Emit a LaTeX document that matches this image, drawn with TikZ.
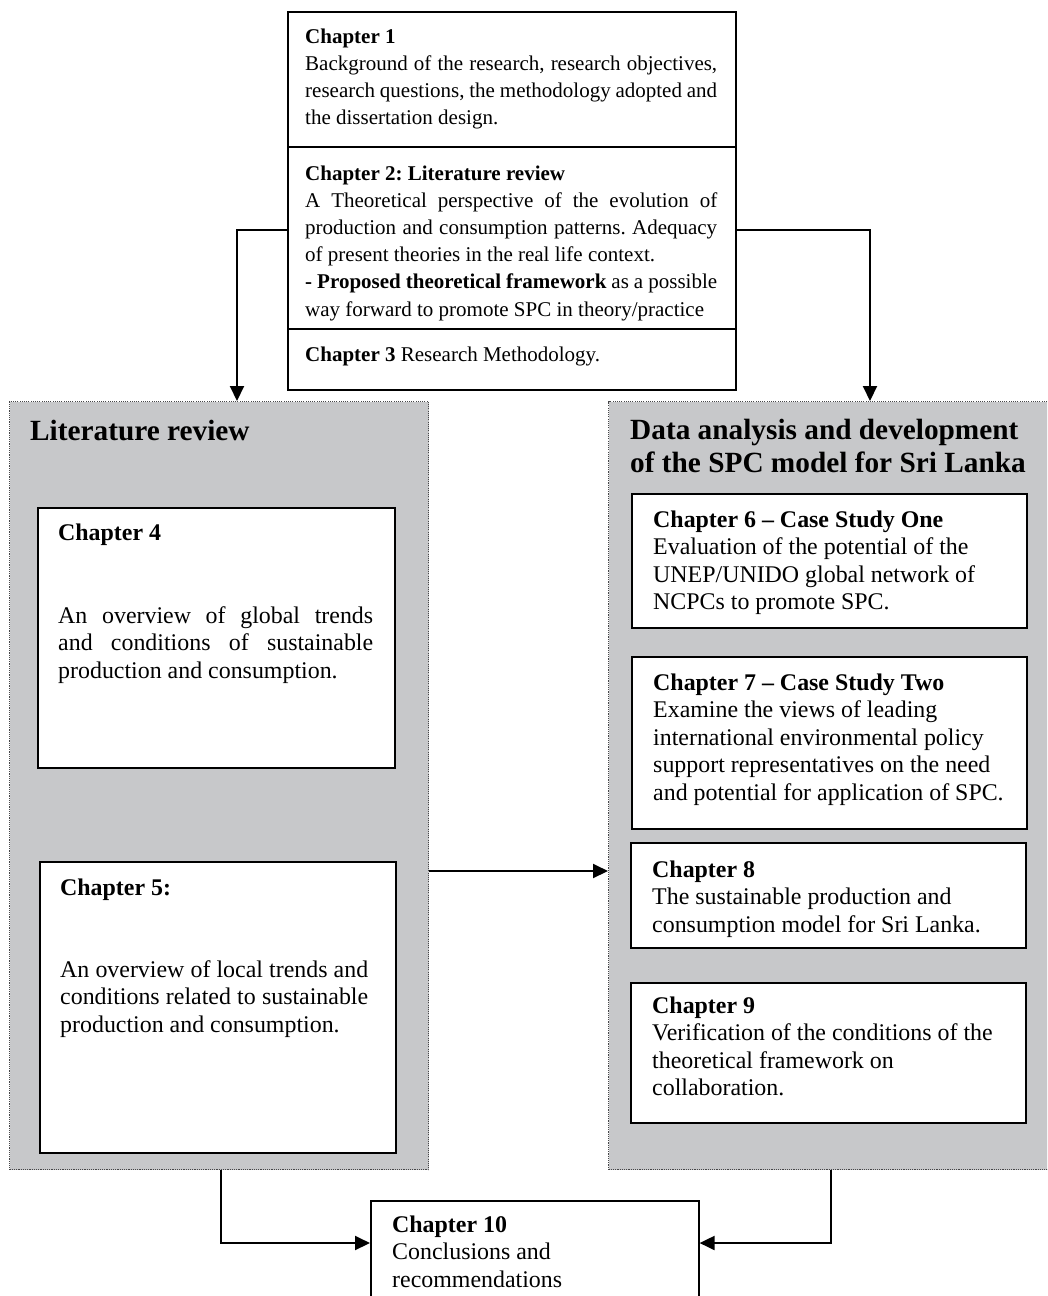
\documentclass[tikz,border=0pt]{standalone}
\usepackage{fontspec}
\setmainfont{Liberation Serif}
\usetikzlibrary{arrows.meta}
\frenchspacing

\definecolor{panelgray}{RGB}{199,200,202}
\definecolor{dotgray}{RGB}{70,70,72}

% use the font's own interword glue
\newcommand\fontspaces{\spaceskip=0pt\relax\xspaceskip=0pt\relax}
% a line stretched to the full text width (justified line)
\newcommand\jl[1]{\leavevmode\hbox to \hsize{\fontspaces#1}}

\tikzset{
  chbox/.style={draw=black, line width=1.6pt, fill=white, inner sep=0pt, anchor=north west},
  panel/.style={fill=panelgray, draw=dotgray, line width=1.2pt,
                dash pattern=on 1.1pt off 1.1pt, inner sep=0pt, anchor=north west},
  txt/.style={inner sep=0pt, anchor=base west, execute at begin node=\fontspaces},
  small/.style={font=\fontsize{21}{27.2}\selectfont},
  body/.style={font=\fontsize{23.9}{27.5}\selectfont},
  title/.style={font=\fontsize{29.3}{33}\selectfont\bfseries},
  arr/.style={line width=2pt, -{Triangle[length=15pt,width=14pt]}},
}

\begin{document}
\begin{tikzpicture}[x=1pt, y=-1pt]
\path[use as bounding box, clip] (0,0) rectangle (1047,1296);
\fill[white] (0,0) rectangle (1047,1296);

% grey panels
\node[panel, minimum width=419pt, minimum height=768pt] (lit) at (9,401) {};
\node[panel, minimum width=460pt, minimum height=768pt] (data) at (608,401) {};
\node[txt, title] (littitle) at (30,440) {Literature review};
\node[txt, title, text width=420pt] (datatitle) at (630,439)
  {Data analysis and development\\of the SPC model for Sri Lanka};

% chapters 1-3
\node[chbox, minimum width=448pt, minimum height=135pt] (c1) at (287,11) {};
\node[chbox, minimum width=448pt, minimum height=182pt] (c2) at (287,146) {};
\node[chbox, minimum width=448pt, minimum height=61pt] (c3) at (287,328) {};

\node[txt, small, text width=412pt] (c1t) at (305,43)
  {\textbf{Chapter 1}\\
   \jl{Background of the research, research objectives,}\\
   \jl{research questions, the methodology adopted and}\\
   the dissertation design.};
\node[txt, small, text width=412pt] (c2t) at (305,180)
  {\textbf{Chapter 2: Literature review}\\
   \jl{A Theoretical perspective of the evolution of}\\
   \jl{production and consumption patterns. Adequacy}\\
   of present theories in the real life context.\\
   \jl{\textbf{- Proposed theoretical framework} as a possible}\\
   way forward to promote SPC in theory/practice};
\node[txt, small] (c3t) at (305,361) {\textbf{Chapter 3} Research Methodology.};

% chapters 4-5
\node[chbox, minimum width=357pt, minimum height=260pt] (c4) at (37,507) {};
\node[txt, body] (c4h) at (58,540) {\textbf{Chapter 4}};
\node[txt, body, text width=315pt] (c4t) at (58,623)
  {\jl{An overview of global trends}\\
   \jl{and conditions of sustainable}\\
   production and consumption.};

\node[chbox, minimum width=356pt, minimum height=291pt] (c5) at (39,861) {};
\node[txt, body] (c5h) at (60,895) {\textbf{Chapter 5:}};
\node[txt, body, text width=308pt] (c5t) at (60,977)
  {\jl{An overview of local trends and}\\
   \jl{conditions related to sustainable}\\
   production and consumption.};

% chapters 6-9
\node[chbox, minimum width=395pt, minimum height=134pt] (c6) at (631,493) {};
\node[txt, body, text width=370pt] (c6t) at (653,527)
  {\textbf{Chapter 6 – Case Study One}\\
   Evaluation of the potential of the\\
   UNEP/UNIDO global network of\\
   NCPCs to promote SPC.};

\node[chbox, minimum width=395pt, minimum height=172pt] (c7) at (631,656) {};
\node[txt, body, text width=370pt] (c7t) at (653,690)
  {\textbf{Chapter 7 – Case Study Two}\\
   Examine the views of leading\\
   international environmental policy\\
   support representatives on the need\\
   and potential for application of SPC.};

\node[chbox, minimum width=395pt, minimum height=105pt] (c8) at (630,842) {};
\node[txt, body, text width=370pt] (c8t) at (652,877)
  {\textbf{Chapter 8}\\
   The sustainable production and\\
   consumption model for Sri Lanka.};

\node[chbox, minimum width=395pt, minimum height=140pt] (c9) at (630,982) {};
\node[txt, body, text width=370pt] (c9t) at (652,1013)
  {\textbf{Chapter 9}\\
   Verification of the conditions of the\\
   theoretical framework on\\
   collaboration.};

% chapter 10
\node[chbox, minimum width=328pt, minimum height=130pt] (c10) at (370,1200) {};
\node[txt, body, text width=300pt] (c10t) at (392,1232)
  {\textbf{Chapter 10}\\
   Conclusions and\\
   recommendations};

% connectors
\coordinate (la) at (237,230);
\coordinate (ra) at (870,230);
\coordinate (mid) at (0,871);
\coordinate (lb) at (221,1243);
\coordinate (rb) at (831,1243);

\draw[arr] (c2.west |- la) -| (lit.north -| la);
\draw[arr] (c2.east |- ra) -| (data.north -| ra);
\draw[arr] (lit.east |- mid) -- (data.west |- mid);
\draw[arr] (lit.south -| lb) |- (c10.west |- lb);
\draw[arr] (data.south -| rb) |- (c10.east |- rb);
\end{tikzpicture}
\end{document}
